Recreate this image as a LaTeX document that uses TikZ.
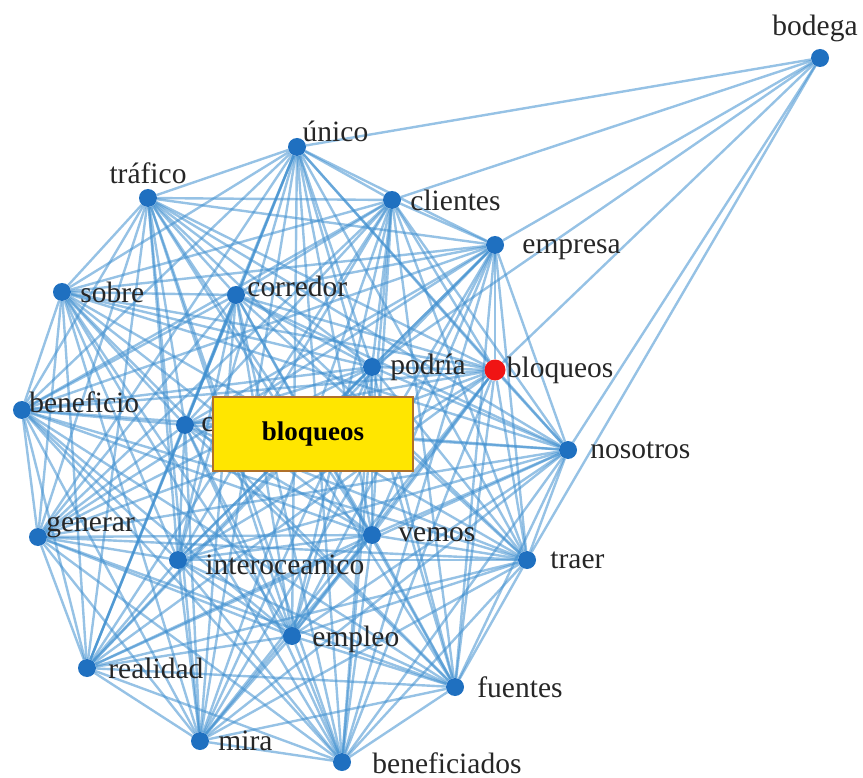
\documentclass[tikz,border=0pt]{standalone}
\usepackage{fontspec}
\setmainfont{Liberation Serif}
\usepackage{tikz}
\usetikzlibrary{positioning,backgrounds}
\definecolor{azul}{HTML}{1F70C0}
\definecolor{celeste}{HTML}{3F8FCF}
\definecolor{rojo}{HTML}{F01414}
\definecolor{amarillo}{HTML}{FFE600}
\definecolor{marron}{HTML}{B0702A}
\tikzset{palabra/.style={
    fill=azul,
    circle,
    inner sep=0pt,
    minimum size=18pt}}
\tikzset{centro/.style={
    palabra,
    fill=rojo,
    minimum size=21pt}}
\tikzset{enlace/.style={
    draw=celeste,
    line width=2.4pt,
    opacity=0.55}}
\tikzset{etiqueta/.style={
    font=\fontsize{29.5}{32}\selectfont,
    inner sep=0pt,
    text=black!85}}
\tikzset{cuadro/.style={
    draw=marron,
    fill=amarillo,
    line width=1.5pt,
    minimum width=200pt,
    minimum height=74pt,
    font=\fontsize{27}{30}\selectfont\bfseries}}
\def\palabras{unico,trafico,clientes,empresa,sobre,corredor,podria,bloqueos,beneficio,nodoc,nosotros,generar,interoceanico,vemos,traer,empleo,realidad,fuentes,mira,beneficiados}

\begin{document}
\begin{tikzpicture}[x=1pt,y=-1pt]
\useasboundingbox (0,0) rectangle (863,778);

\node[palabra] (bodega) at (820,58) {};
\node[palabra] (unico) at (297,147) {};
\node[palabra] (trafico) at (148,198) {};
\node[palabra] (clientes) at (392,200) {};
\node[palabra] (empresa) at (495,245) {};
\node[palabra] (sobre) at (62,292) {};
\node[palabra] (corredor) at (236,295) {};
\node[palabra] (podria) at (372,367) {};
\node[centro] (bloqueos) at (495,370) {};
\node[palabra] (beneficio) at (22,410) {};
\node[palabra] (nodoc) at (185,425) {};
\node[palabra] (nosotros) at (568,450) {};
\node[palabra] (generar) at (38,537) {};
\node[palabra] (interoceanico) at (178,560) {};
\node[palabra] (vemos) at (372,535) {};
\node[palabra] (traer) at (527,560) {};
\node[palabra] (empleo) at (292,636) {};
\node[palabra] (realidad) at (87,668) {};
\node[palabra] (fuentes) at (455,687) {};
\node[palabra] (mira) at (200,741) {};
\node[palabra] (beneficiados) at (342,762) {};

\begin{scope}[on background layer]
  \foreach \a [count=\i] in \palabras {
    \foreach \b [count=\j] in \palabras {
      \ifnum\j>\i \draw[enlace] (\a) -- (\b); \fi
    }
  }
  \foreach \b in {unico,clientes,empresa,podria,bloqueos,nosotros,traer}
    \draw[enlace] (bodega) -- (\b);
\end{scope}

% etiquetas
\node[etiqueta, above=7pt of bodega, xshift=-5pt] (t-bodega) {bodega};
\node[etiqueta, above right=-1pt and -1pt of unico] (t-unico) {único};
\node[etiqueta, above=5pt of trafico] (t-trafico) {tráfico};
\node[etiqueta, right=9pt of clientes] (t-clientes) {clientes};
\node[etiqueta, right=18pt of empresa, yshift=-5pt] (t-empresa) {empresa};
\node[etiqueta, right=9pt of sobre] (t-sobre) {sobre};
\node[etiqueta, right=2pt of corredor, yshift=9pt] (t-corredor) {corredor};
\node[etiqueta, right=9pt of podria] (t-podria) {podría};
\node[etiqueta, right=1pt of bloqueos] (t-bloqueos) {bloqueos};
\node[etiqueta, right=-2pt of beneficio, yshift=8pt] (t-beneficio) {beneficio};
\node[etiqueta, right=7pt of nodoc] (t-nodoc) {c};
\node[etiqueta, right=13pt of nosotros] (t-nosotros) {nosotros};
\node[etiqueta, right=-1pt of generar, yshift=10pt] (t-generar) {generar};
\node[etiqueta, right=18pt of interoceanico, yshift=-5pt] (t-interoceanico) {interoceanico};
\node[etiqueta, right=17pt of vemos] (t-vemos) {vemos};
\node[etiqueta, right=14pt of traer] (t-traer) {traer};
\node[etiqueta, right=11pt of empleo, yshift=-3pt] (t-empleo) {empleo};
\node[etiqueta, right=12pt of realidad] (t-realidad) {realidad};
\node[etiqueta, right=13pt of fuentes] (t-fuentes) {fuentes};
\node[etiqueta, right=9pt of mira] (t-mira) {mira};
\node[etiqueta, right=21pt of beneficiados, yshift=-1pt] (t-beneficiados) {beneficiados};

\node[cuadro] (caja) at (313,434) {bloqueos};
\end{tikzpicture}
\end{document}
